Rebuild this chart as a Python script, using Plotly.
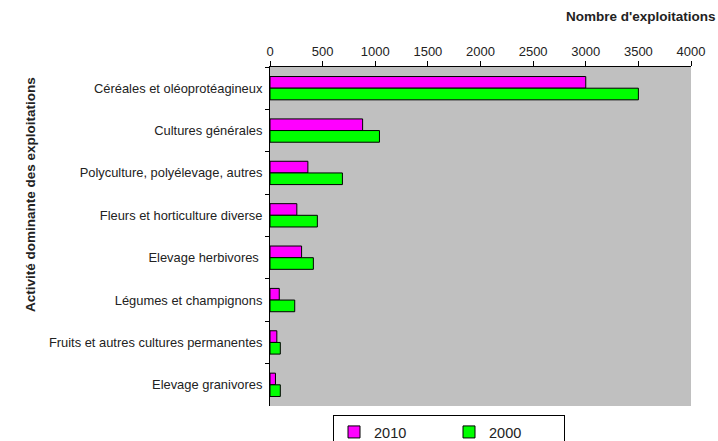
import plotly.graph_objects as go

categories = [
    "Céréales et oléoprotéagineux",
    "Cultures générales",
    "Polyculture, polyélevage, autres",
    "Fleurs et horticulture diverse",
    "Elevage herbivores ",
    "Légumes et champignons",
    "Fruits et autres cultures permanentes",
    "Elevage granivores",
]
values_2010 = [3000, 880, 360, 255, 300, 88, 65, 52]
values_2000 = [3500, 1040, 688, 450, 412, 235, 98, 98]
x_ticks = [0, 500, 1000, 1500, 2000, 2500, 3000, 3500, 4000]

W, H = 718, 441
L, R, T, B = 270, 27, 67, 35
plot_w = W - L - R
plot_h = H - T - B

fig = go.Figure()
fig.add_trace(go.Bar(
    y=categories, x=values_2010, name="2010", orientation="h",
    marker=dict(color="#ff00ff", line=dict(color="#000000", width=1)),
))
fig.add_trace(go.Bar(
    y=categories, x=values_2000, name="2000", orientation="h",
    marker=dict(color="#00ff00", line=dict(color="#000000", width=1)),
))

fig.update_layout(
    width=W, height=H,
    margin=dict(l=L, r=R, t=T, b=B, autoexpand=False),
    paper_bgcolor="white",
    plot_bgcolor="#c0c0c0",
    barmode="group",
    bargap=0.45,
    bargroupgap=0.0,
    font=dict(family="Liberation Sans, Arial, sans-serif", size=12.9, color="#222222"),
    showlegend=True,
    legend=dict(
        orientation="h", x=(333 - L) / plot_w, xanchor="left",
        y=-(415 - (T + plot_h)) / plot_h, yanchor="top",
        bordercolor="#000000", borderwidth=1, bgcolor="white",
        font=dict(size=14.5, color="#222222"),
        traceorder="normal", itemwidth=30,
        entrywidth=70,
    ),
    xaxis=dict(
        side="top", range=[0, 4000], tickvals=x_ticks,
        ticktext=[str(v) for v in x_ticks],
        showgrid=False, zeroline=False,
        showline=True, linecolor="#000000", linewidth=1,
        ticks="outside", ticklen=5, tickcolor="#000000",
        tickfont=dict(size=13, color="#222222"),
        automargin=False,
    ),
    yaxis=dict(
        autorange="reversed", showgrid=False,
        showline=True, linecolor="#000000", linewidth=1,
        ticks="outside", ticklen=4, tickcolor="#000000",
        tickson="boundaries",
        tickfont=dict(size=12.9, color="#222222"),
        ticklabelstandoff=4,
        automargin=False,
    ),
)
fig.add_annotation(
    text="<b>Nombre d'exploitations</b>",
    xref="paper", yref="paper",
    x=(717 - L) / plot_w, xanchor="right",
    y=1 + (T - 17) / plot_h, yanchor="middle",
    showarrow=False, font=dict(size=13.5, color="#222222"),
)
fig.add_annotation(
    text="<b>Activité dominante des exploitations</b>", textangle=-90,
    xref="paper", yref="paper",
    x=(30 - L) / plot_w, y=1 - (195 - T) / plot_h,
    xanchor="center", yanchor="middle", showarrow=False,
    font=dict(size=13.5, color="#222222"),
)

fig.write_html("out.html", config={"displayModeBar": False})

# remove the default page margin so the figure sits at the window's corner
with open("out.html", "r", encoding="utf-8") as f:
    html = f.read()
html = html.replace("<head>", "<head><style>html,body{margin:0;padding:0;overflow:hidden;}</style>", 1)
with open("out.html", "w", encoding="utf-8") as f:
    f.write(html)
